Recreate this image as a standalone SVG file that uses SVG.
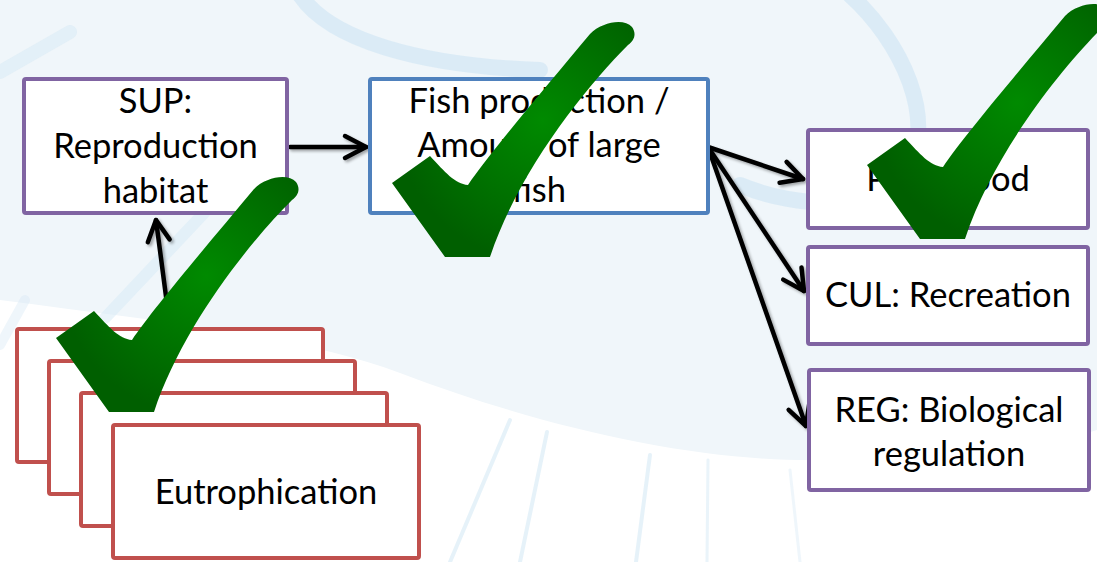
<svg xmlns="http://www.w3.org/2000/svg" width="1097" height="562" viewBox="0 0 1097 562">
  <style>
    .box { fill: #ffffff; stroke-width: 4; }
    .sup { stroke: #8064a2; }
    .blue { stroke: #4f81bd; }
    .red { stroke: #c0504d; }
    .lbl { font-family: "Lato", "Liberation Sans", sans-serif; font-size: 34.5px; fill: #000000; text-anchor: middle; }
    .conn { fill: none; stroke: #000000; stroke-width: 4.5; stroke-linecap: round; marker-end: url(#chev); }
    .band { fill: none; stroke: #d6e9f5; stroke-linecap: round; }
  </style>
  <defs>
    <marker id="chev" markerUnits="userSpaceOnUse" viewBox="-26 -15 30 30" refX="0" refY="0" markerWidth="30" markerHeight="30" orient="auto" overflow="visible">
      <path d="M -21,-11 L 0,0 L -21,11" fill="none" stroke="#000000" stroke-width="4.5" stroke-linecap="round" stroke-linejoin="round"/>
    </marker>
    <radialGradient id="tickFill" cx="0.62" cy="0.42" r="0.6">
      <stop offset="0" stop-color="#008a00"/>
      <stop offset="1" stop-color="#005f00"/>
    </radialGradient>
    <filter id="soft" x="-10%" y="-10%" width="130%" height="130%">
      <feGaussianBlur in="SourceAlpha" stdDeviation="1.5"/>
      <feOffset dx="1.5" dy="2" result="b"/>
      <feComponentTransfer><feFuncA type="linear" slope="0.35"/></feComponentTransfer>
      <feMerge><feMergeNode/><feMergeNode in="SourceGraphic"/></feMerge>
    </filter>
    <path id="tick" d="M 445,257 L 392,183 L 430,156 C 445,172 455,184 468,185 C 488,155 545,88 590,34 C 602,22 624,18 632,27 C 637,34 634,41 628,45 C 585,88 518,172 490,257 Z"/>
  </defs>

  <!-- backdrop: pale watermark -->
  <g id="backdrop">
    <rect x="0" y="0" width="1097" height="562" fill="#f0f6fa"/>
    <path d="M 0,300 C 150,320 300,335 400,373 C 550,430 700,462 820,460 C 950,458 1050,445 1097,430 L 1097,562 L 0,562 Z" fill="#ffffff"/>
    <path class="band" stroke-width="16" opacity="0.8" d="M 300,-5 C 330,40 420,66 540,70"/>
    <path class="band" stroke-width="16" opacity="0.8" d="M 850,-5 C 900,40 940,120 905,175 C 880,210 800,210 740,185"/>
    <path class="band" stroke-width="14" opacity="0.5" d="M 0,72 L 70,32"/>
    <path class="band" stroke-width="12" opacity="0.5" d="M 105,318 L 205,212"/>
    <path class="band" stroke-width="10" opacity="0.4" d="M 0,345 L 25,300"/>
    <path class="band" stroke-width="4" opacity="0.6" d="M 510,420 L 450,562"/>
    <path class="band" stroke-width="4" opacity="0.6" d="M 547,432 L 520,562"/>
    <path class="band" stroke-width="4" opacity="0.6" d="M 650,455 L 636,562"/>
    <path class="band" stroke-width="3" opacity="0.5" d="M 708,460 L 707,562"/>
    <path class="band" stroke-width="3" opacity="0.4" d="M 790,470 L 800,562"/>
  </g>

  <!-- connectors -->
  <g id="connectors" filter="url(#soft)">
    <path class="conn" d="M 290,147 L 366,147"/>
    <path class="conn" d="M 170,327 L 156,220"/>
    <path class="conn" d="M 708,147 L 803,179"/>
    <path class="conn" d="M 708,147 L 804,291"/>
    <path class="conn" d="M 708,147 L 806,426"/>
  </g>

  <g id="sup">
    <rect class="box sup" x="24" y="79" width="263" height="134" rx="2"/>
    <text class="lbl" x="155.5" y="113">SUP:</text>
    <text class="lbl" x="155.5" y="158">Reproduction</text>
    <text class="lbl" x="155.5" y="203">habitat</text>
  </g>

  <g id="fish">
    <rect class="box blue" x="370" y="79" width="338" height="134" rx="2"/>
    <text class="lbl" x="539" y="113">Fish production /</text>
    <text class="lbl" x="539" y="157">Amount of large</text>
    <text class="lbl" x="539" y="202">fish</text>
  </g>

  <g id="pro">
    <rect class="box sup" x="808" y="130" width="280" height="98" rx="2"/>
    <text class="lbl" x="948" y="191">PRO: Food</text>
  </g>

  <g id="cul">
    <rect class="box sup" x="808" y="247" width="280" height="97" rx="2"/>
    <text class="lbl" x="948" y="307">CUL: Recreation</text>
  </g>

  <g id="reg">
    <rect class="box sup" x="809" y="370" width="280" height="120" rx="2"/>
    <text class="lbl" x="949" y="422">REG: Biological</text>
    <text class="lbl" x="949" y="466">regulation</text>
  </g>

  <g id="pressures">
    <rect class="box red" x="17" y="329" width="306" height="133" rx="2"/>
    <rect class="box red" x="49" y="361" width="306" height="133" rx="2"/>
    <rect class="box red" x="81" y="393" width="306" height="133" rx="2"/>
    <rect class="box red" x="113" y="425" width="306" height="133" rx="2"/>
    <text class="lbl" x="266" y="504">Eutrophication</text>
  </g>

  <!-- tick marks -->
  <g id="ticks" fill="url(#tickFill)">
    <use href="#tick"/>
    <use href="#tick" transform="translate(-336,155)"/>
    <use href="#tick" transform="translate(475,-18)"/>
  </g>
</svg>
